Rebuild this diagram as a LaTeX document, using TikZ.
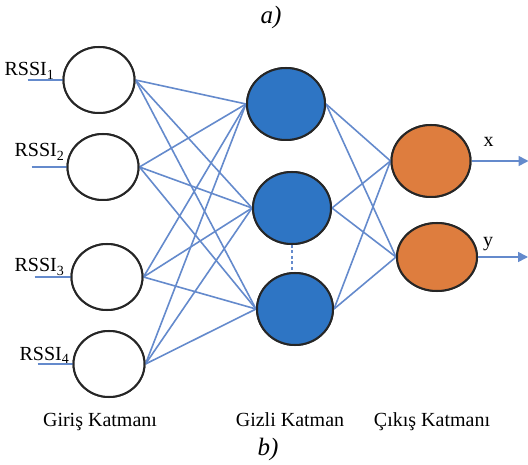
\documentclass[tikz,border=0pt]{standalone}
\usepackage{fontspec}
\setmainfont{Liberation Serif}
\usepackage{tikz}
\usetikzlibrary{arrows,arrows.meta,positioning,shapes.geometric}

\definecolor{linkblue}{RGB}{100,138,204}
\definecolor{hidblue}{RGB}{46,117,196}
\definecolor{outorange}{RGB}{222,125,62}

\begin{document}
\begin{tikzpicture}[x=1pt,y=-1pt,>={Triangle[length=10pt,width=10pt]},
		inode/.style={ellipse,draw=black!85,line width=2pt,fill=white,inner sep=0pt,minimum width=71pt,minimum height=66pt},
		hnode/.style={ellipse,draw=black!85,line width=2pt,fill=hidblue,inner sep=0pt,minimum width=78pt,minimum height=72pt},
		onode/.style={ellipse,draw=black!85,line width=2pt,fill=outorange,inner sep=0pt,minimum width=79pt,minimum height=70pt},
		conn/.style={draw=linkblue,line width=1.6pt},
		lbl/.style={inner sep=0pt,font=\fontsize{20}{24}\selectfont},
		tag/.style={inner sep=0pt,font=\fontsize{25}{30}\selectfont\itshape}]
		\useasboundingbox (0,0) rectangle (528,465);

		% input layer
		\node[inode] (i1) at (99,80) {};
		\node[inode] (i2) [below of=i1, node distance=87pt, xshift=4pt] {};
		\node[inode] (i3) [below of=i2, node distance=110pt, xshift=4pt] {};
		\node[inode] (i4) [below of=i3, node distance=87pt, xshift=2pt] {};

		% hidden layer
		\node[hnode] (h1) [right of=i1, node distance=187pt, yshift=-24pt] {};
		\node[hnode] (h2) [below of=h1, node distance=104pt, xshift=6pt] {};
		\node[hnode, minimum width=76pt] (h3) [below of=h2, node distance=101pt, xshift=3pt] {};

		% output layer
		\node[onode, minimum height=72pt] (o1) [right of=h1, node distance=145pt, yshift=-57pt] {};
		\node[onode, minimum width=80pt, minimum height=68pt] (o2) [below of=o1, node distance=96pt, xshift=6pt] {};

		% inputs
		\coordinate[left=35pt of i1.west] (s1);
		\coordinate[left=35pt of i2.west] (s2);
		\coordinate[left=36pt of i3.west] (s3);
		\coordinate[left=35pt of i4.west] (s4);
		\node[lbl, anchor=base east] (r1) at ([xshift=-8pt,yshift=4pt]i1.west) {RSSI\textsubscript{1}};
		\node[lbl, anchor=base east] (r2) at ([xshift=-2pt,yshift=10pt]i2.west) {RSSI\textsubscript{2}};
		\node[lbl, anchor=base east] (r3) at ([xshift=-6pt,yshift=5pt]i3.west) {RSSI\textsubscript{3}};
		\node[lbl, anchor=base east] (r4) at ([xshift=-3pt,yshift=4pt]i4.west) {RSSI\textsubscript{4}};

		% outputs
		\coordinate[right=57pt of o1.east] (e1);
		\coordinate[right=50pt of o2.east] (e2);
		\node[lbl, anchor=base] (lx) at ([xshift=17pt,yshift=14pt]o1.east) {x};
		\node[lbl, anchor=base] (ly) at ([xshift=10pt,yshift=10pt]o2.east) {y};

		\path[conn]
		(s1) edge (i1.west)
		(s2) edge (i2.west)
		(s3) edge (i3.west)
		(s4) edge (i4.west)

		(i1.east) edge (h1.west)
		(i1.east) edge (h2.west)
		(i1.east) edge (h3.west)
		(i2.east) edge (h1.west)
		(i2.east) edge (h2.west)
		(i2.east) edge (h3.west)
		(i3.east) edge (h1.west)
		(i3.east) edge (h2.west)
		(i3.east) edge (h3.west)
		(i4.east) edge (h1.west)
		(i4.east) edge (h2.west)
		(i4.east) edge (h3.west)

		(h1.east) edge (o1.west)
		(h1.east) edge (o2.west)
		(h2.east) edge (o1.west)
		(h2.east) edge (o2.west)
		(h3.east) edge (o1.west)
		(h3.east) edge (o2.west)
		;
		\draw[conn, dash pattern=on 3pt off 2.5pt] (h2.south) -- (h2.south |- h3.north);
		\draw[conn, ->] (o1.east) -- (e1);
		\draw[conn, ->] (o2.east) -- (e2);

		% redraw nodes over the links
		\node[inode] at (i1) {};
		\node[inode] at (i2) {};
		\node[inode] at (i3) {};
		\node[inode] at (i4) {};
		\node[hnode] at (h1) {};
		\node[hnode] at (h2) {};
		\node[hnode, minimum width=76pt] at (h3) {};
		\node[onode, minimum height=72pt] at (o1) {};
		\node[onode, minimum width=80pt, minimum height=68pt] at (o2) {};

		% layer names
		\node[lbl, anchor=base] (tin) at (100,426) {Giriş Katmanı};
		\node[lbl, anchor=base] (thid) at (290,426) {Gizli Katman};
		\node[lbl, anchor=base] (tout) at (432,426) {Çıkış Katmanı};
		\node[tag, anchor=base] (ta) at (271,24) {a)};
		\node[tag, anchor=base] (tb) at (268,455) {b)};
	\end{tikzpicture}
\end{document}
